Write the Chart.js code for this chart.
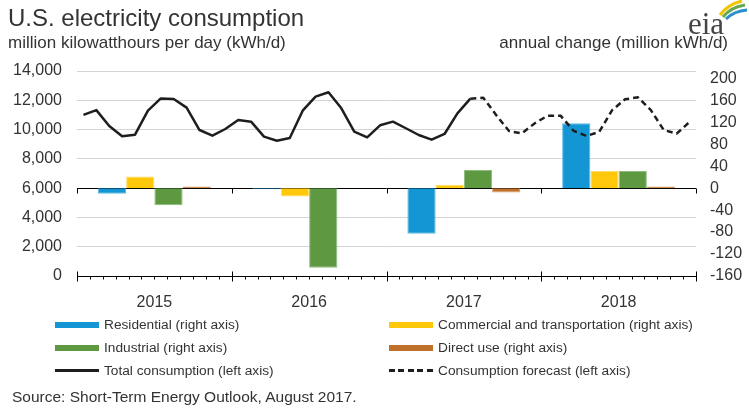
<!DOCTYPE html>
<html>
<head>
<meta charset="utf-8">
<script src="https://cdn.jsdelivr.net/npm/chart.js@4.4.1/dist/chart.umd.min.js"></script>
<style>
  html, body { margin: 0; padding: 0; background: #fff; }
  body { width: 749px; height: 409px; position: relative; overflow: hidden;
         font-family: "Liberation Sans", Arial, sans-serif; color: #333; }
  #chart { position: absolute; left: 0; top: 0; }
  .title { position: absolute; left: 8px; top: 4px; font-size: 24px; color: #333; }
  .sub { position: absolute; top: 33px; font-size: 17px; color: #333; white-space: nowrap; }
  .legend { position: absolute; left: 55px; top: 313px; display: grid;
            grid-template-columns: 334px auto; font-size: 13.7px; }
  .legend .item { display: flex; align-items: center; height: 23px; white-space: nowrap; }
  .legend .sw { width: 44px; height: 6px; margin-right: 5px; flex: none; }
  .source { position: absolute; left: 12px; top: 388px; font-size: 15.5px; }
</style>
</head>
<body>
<canvas id="chart" width="749" height="409"></canvas>
<div class="title">U.S. electricity consumption</div>
<div class="sub" style="left:8px">million kilowatthours per day (kWh/d)</div>
<div class="sub" style="right:21px">annual change (million kWh/d)</div>
<svg style="position:absolute;left:684px;top:0" width="65" height="40">
  <path d="M36 15 Q44 4 58 1" stroke="#f2c400" stroke-width="3" fill="none"/>
  <path d="M39 17 Q47 7 61 5" stroke="#6aa84f" stroke-width="3" fill="none"/>
  <path d="M42 19 Q50 11 63 10" stroke="#2a8fd0" stroke-width="3" fill="none"/>
  <text x="4" y="34" font-family="Liberation Serif, DejaVu Serif, serif" font-size="31" fill="#444">eia</text>
</svg>
<div class="legend" id="legend"></div>
<div class="source">Source: Short-Term Energy Outlook, August 2017.</div>

<script>
// categories
const years = ['2015', '2016', '2017', '2018'];
const monthsPerYear = 12;

// annual change by sector (million kWh/d, right axis)
const residential = [-10, -2, -83, 118];
const commercial = [21, -15, 6, 31];
const industrial = [-31, -145, 33, 31];
const directUse = [3, 0, -8, 3];

// monthly total consumption (million kWh/d, left axis)
// history Jan 2015 - Jul 2017
const totalActual = [
  11000, 11330, 10240, 9540, 9650, 11290, 12130, 12090, 11500, 9970, 9580, 10040,
  10650, 10540, 9520, 9240, 9430, 11290, 12250, 12550, 11450, 9860, 9470, 10290,
  10540, 10090, 9630, 9310, 9700, 11110, 12110
];
// forecast Jul 2017 - Dec 2018
const totalForecast = [
  12110, 12180, 11000, 9900, 9740, 10430,
  10950, 10950, 9920, 9560, 9850, 11330, 12070, 12200, 11330, 9970, 9720, 10520
];

// tick labels
const rightTicks = [-160, -120, -80, -40, 0, 40, 80, 120, 160, 200];

// x axis runs in months (0 = start of Jan 2015); months sit at their centre,
// annual bars at the middle of their year
const nMonths = years.length * monthsPerYear;
const forecastStart = totalActual.length - 1;
const yearCenter = i => i * monthsPerYear + monthsPerYear / 2;
const barPoints = arr => arr.map((v, i) => ({ x: yearCenter(i), y: v }));
const actualData = totalActual.map((v, i) => ({ x: i + 0.5, y: v }));
const forecastData = totalForecast.map((v, i) => ({ x: forecastStart + i + 0.5, y: v }));

// axis line at zero (right axis) and bottom axis with month ticks
const axisDecor = {
    id: 'axisDecor',
    beforeDatasetsDraw(chart) {
        const ctx = chart.ctx;
        const area = chart.chartArea;
        const xs = chart.scales.x;
        const y0 = Math.round(chart.scales.yR.getPixelForValue(0)) + 0.5;
        ctx.save();
        ctx.strokeStyle = '#000';
        ctx.lineWidth = 1;
        ctx.beginPath();
        ctx.moveTo(area.left, y0);
        ctx.lineTo(area.right, y0);
        for (let i = 0; i <= nMonths; i += monthsPerYear) {
            const x = Math.round(xs.getPixelForValue(i)) + 0.5;
            ctx.moveTo(x, y0);
            ctx.lineTo(x, y0 + 5);
        }
        ctx.stroke();
        ctx.restore();
    },
    afterDraw(chart) {
        const ctx = chart.ctx;
        const area = chart.chartArea;
        const xs = chart.scales.x;
        const yb = Math.round(area.bottom) + 0.5;
        ctx.save();
        ctx.strokeStyle = '#000';
        ctx.lineWidth = 1;
        ctx.beginPath();
        ctx.moveTo(area.left, yb);
        ctx.lineTo(area.right, yb);
        for (let i = 0; i <= nMonths; i++) {
            const x = Math.round(xs.getPixelForValue(i)) + 0.5;
            if (i % monthsPerYear === 0) {
                ctx.moveTo(x, yb - 5);
                ctx.lineTo(x, yb + 5);
            } else {
                ctx.moveTo(x, yb);
                ctx.lineTo(x, yb + 3);
            }
        }
        ctx.stroke();
        ctx.restore();
    }
};

Chart.defaults.font.family = '"Liberation Sans", Arial, sans-serif';
Chart.defaults.color = '#333';

const barStyle = { yAxisID: 'yR', order: 1, borderWidth: 1,
    categoryPercentage: 0.73, barPercentage: 1.0 };

let ctx = document.getElementById('chart').getContext('2d');
let chart = new Chart(ctx, {
    type: 'bar',
    data: {
        datasets: [
            Object.assign({ label: 'Residential (right axis)', data: barPoints(residential),
                backgroundColor: '#1396d3', borderColor: '#5cb6e2' }, barStyle),
            Object.assign({ label: 'Commercial and transportation (right axis)', data: barPoints(commercial),
                backgroundColor: '#ffc80a', borderColor: '#ffdc6a' }, barStyle),
            Object.assign({ label: 'Industrial (right axis)', data: barPoints(industrial),
                backgroundColor: '#5e9942', borderColor: '#8fbb7c' }, barStyle),
            Object.assign({ label: 'Direct use (right axis)', data: barPoints(directUse),
                backgroundColor: '#bf712b', borderColor: '#d89b66' }, barStyle),
            {
                type: 'line', label: 'Total consumption (left axis)', data: actualData,
                yAxisID: 'y', order: 0,
                borderColor: '#1e1e1e', backgroundColor: '#1e1e1e', borderWidth: 2.5,
                pointRadius: 0, tension: 0, borderJoinStyle: 'round'
            },
            {
                type: 'line', label: 'Consumption forecast (left axis)', data: forecastData,
                yAxisID: 'y', order: 0,
                borderColor: '#1e1e1e', backgroundColor: '#1e1e1e', borderWidth: 2.5,
                borderDash: [6, 4], pointRadius: 0, tension: 0, borderJoinStyle: 'round'
            }
        ]
    },
    options: {
        responsive: false,
        animation: false,
        events: [],
        layout: { padding: { left: 0, right: 0, top: 71, bottom: 88 } },
        plugins: { legend: { display: false }, tooltip: { enabled: false } },
        scales: {
            x: {
                type: 'linear',
                min: 0,
                max: nMonths,
                offset: false,
                grid: { display: false, drawTicks: false },
                border: { display: false },
                ticks: {
                    font: { size: 16 }, color: '#333', padding: 17, maxRotation: 0,
                    callback: v => years[(v - monthsPerYear / 2) / monthsPerYear]
                },
                afterBuildTicks: s => { s.ticks = years.map((y, i) => ({ value: yearCenter(i) })); },
                afterFit: s => { s.height = 45; }
            },
            y: {
                position: 'left',
                min: 0,
                max: 14000,
                ticks: { stepSize: 2000, font: { size: 16 }, color: '#333', padding: 15 },
                grid: { color: '#d4d4d4', drawTicks: false },
                border: { display: false },
                afterFit: s => { s.width = 77; }
            },
            yR: {
                position: 'right',
                min: -160,
                max: 160 * 8 / 6,
                ticks: { font: { size: 16 }, color: '#333', padding: 14 },
                grid: { display: false, drawTicks: false },
                border: { display: false },
                afterBuildTicks: s => { s.ticks = rightTicks.map(v => ({ value: v })); },
                afterFit: s => { s.width = 53; }
            }
        }
    },
    plugins: [axisDecor]
});

// legend built from the chart's datasets
let legend = document.getElementById('legend');
chart.data.datasets.forEach(ds => {
    let item = document.createElement('div');
    item.className = 'item';
    let sw = document.createElement('span');
    sw.className = 'sw';
    if (ds.type === 'line') {
        sw.style.height = '3px';
        sw.style.background = ds.borderDash
            ? 'repeating-linear-gradient(to right, #1e1e1e 0 6px, transparent 6px 9.5px)'
            : '#1e1e1e';
    } else {
        sw.style.background = ds.backgroundColor;
    }
    item.appendChild(sw);
    item.appendChild(document.createTextNode(ds.label));
    legend.appendChild(item);
});
</script>
</body>
</html>
